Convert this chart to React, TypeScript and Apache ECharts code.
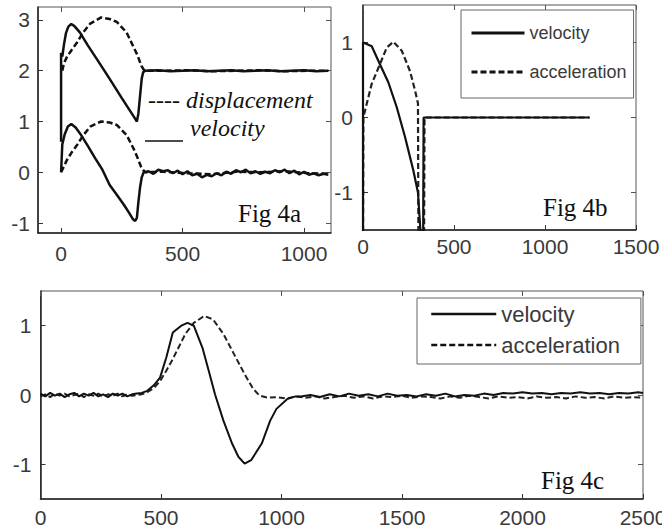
import React, { useEffect, useRef } from "react";
import * as echarts from "echarts";

// ---------- Fig 4a data ----------
const fig4aTicksX = [0, 500, 1000];
const fig4aTicksY = [-1, 0, 1, 2, 3];
const fig4aVelocityUpper = [
  [0, 0.6], [0, 2.35], [5, 2.28], [12, 2.52], [20, 2.74], [30, 2.87], [42, 2.92], [55, 2.88],
  [78, 2.75], [110, 2.5], [150, 2.21], [200, 1.84], [250, 1.46], [280, 1.24], [300, 1.09],
  [312, 1.0], [318, 1.15], [325, 1.5], [332, 1.85], [338, 1.97], [345, 2.0], [400, 2.01],
  [450, 1.99], [500, 2.0], [550, 2.01], [600, 1.99], [650, 2.0], [700, 2.01], [750, 1.99],
  [800, 2.0], [850, 2.01], [900, 1.99], [950, 2.0], [1000, 2.01], [1050, 1.99], [1100, 2.0],
];
const fig4aDisplacementUpper = [
  [5, 2.0], [12, 2.15], [25, 2.28], [45, 2.42], [65, 2.55], [90, 2.75], [120, 2.93],
  [165, 3.05], [200, 3.02], [230, 2.96], [270, 2.75], [300, 2.45], [315, 2.3], [330, 2.1],
  [340, 2.02], [350, 2.0], [420, 2.0], [520, 2.01], [620, 1.99], [720, 2.0], [820, 2.01],
  [920, 1.99], [1020, 2.0], [1100, 2.0],
];
const fig4aVelocityLower = [
  [0, 0.0], [5, 0.55], [15, 0.75], [28, 0.9], [42, 0.95], [60, 0.88], [80, 0.75], [110, 0.52],
  [140, 0.28], [170, 0.05], [200, -0.25], [230, -0.45], [260, -0.65], [280, -0.8], [295, -0.92],
  [305, -0.96], [312, -0.9], [318, -0.6], [325, -0.3], [332, -0.1], [340, 0.0], [360, 0.02],
  [380, -0.03], [400, 0.05], [420, 0.02], [440, 0.04], [460, -0.02], [480, 0.03], [500, -0.04],
  [520, 0.02], [540, -0.06], [560, -0.03], [580, -0.1], [600, -0.05], [620, -0.08], [640, -0.02],
  [660, -0.06], [680, 0.01], [700, -0.03], [720, 0.04], [740, 0.0], [760, 0.05], [780, -0.02],
  [800, 0.02], [820, -0.03], [840, 0.01], [860, -0.02], [880, 0.04], [900, 0.0], [920, 0.05],
  [940, -0.02], [960, 0.03], [980, -0.04], [1000, 0.01], [1020, -0.05], [1040, -0.02],
  [1060, -0.06], [1080, -0.03], [1100, -0.05],
];
const fig4aDisplacementLower = [
  [0, 0.0], [12, 0.12], [25, 0.25], [45, 0.4], [65, 0.53], [90, 0.72], [120, 0.9], [165, 1.0],
  [200, 0.98], [230, 0.93], [270, 0.73], [300, 0.45], [315, 0.28], [330, 0.1], [345, 0.0],
  [420, 0.01], [520, -0.02], [620, -0.04], [720, 0.01], [820, 0.0], [920, 0.02], [1020, -0.02],
  [1100, -0.03],
];

// ---------- Fig 4b data ----------
const fig4bTicksX = [0, 500, 1000, 1500];
const fig4bTicksY = [-1, 0, 1];
const fig4bVelocity = [
  [0, -2], [0, 1.0], [20, 0.98], [48, 0.95], [93, 0.71], [139, 0.47], [185, 0.14],
  [231, -0.26], [276, -0.7], [302, -1.0], [318, -1.6], [330, -2], [333, 0], [600, 0],
  [900, 0], [1245, 0],
];
const fig4bAcceleration = [
  [0, -2], [2, 0.0], [12, 0.1], [48, 0.45], [93, 0.71], [130, 0.93], [167, 1.01], [213, 0.89],
  [258, 0.62], [286, 0.36], [302, 0.19], [305, -2], [335, -2], [338, 0], [700, 0], [1245, 0],
];

// ---------- Fig 4c data ----------
const fig4cTicksX = [0, 500, 1000, 1500, 2000, 2500];
const fig4cTicksY = [-1, 0, 1];
const fig4cVelocity = [
  [0, 0.02], [20, -0.02], [40, 0.03], [60, -0.01], [80, 0.02], [100, -0.03], [120, 0.01],
  [140, 0.03], [160, -0.02], [180, 0.02], [200, -0.01], [220, 0.03], [240, -0.02], [260, 0.01],
  [280, -0.03], [300, 0.02], [320, -0.01], [340, 0.02], [360, -0.02], [380, 0.01], [400, 0.02],
  [420, 0.03], [443, 0.06], [470, 0.14], [496, 0.25], [522, 0.54], [549, 0.9], [584, 1.0],
  [610, 1.04], [636, 1.0], [672, 0.68], [698, 0.35], [724, 0.01], [759, -0.37], [795, -0.7],
  [821, -0.89], [847, -0.99], [874, -0.94], [918, -0.7], [953, -0.37], [979, -0.2],
  [1023, -0.06], [1058, -0.02], [1080, -0.02], [1120, 0.0], [1160, -0.03], [1200, 0.01],
  [1240, -0.02], [1280, 0.02], [1320, -0.01], [1360, 0.01], [1400, -0.02], [1440, 0.02],
  [1480, -0.01], [1520, 0.0], [1560, -0.02], [1600, 0.01], [1640, -0.01], [1680, 0.02],
  [1720, -0.02], [1760, 0.0], [1800, -0.01], [1840, 0.02], [1880, 0.0], [1920, 0.03],
  [1960, 0.02], [2000, 0.04], [2040, 0.02], [2080, 0.03], [2120, 0.01], [2160, 0.03],
  [2200, 0.02], [2240, 0.04], [2280, 0.02], [2320, 0.03], [2360, 0.01], [2400, 0.03],
  [2440, 0.02], [2480, 0.04], [2500, 0.03],
];
const fig4cAcceleration = [
  [0, -0.02], [20, 0.01], [40, -0.03], [60, 0.02], [80, -0.01], [100, 0.02], [120, -0.02],
  [140, 0.0], [160, 0.02], [180, -0.03], [200, 0.01], [220, -0.01], [240, 0.02], [260, -0.02],
  [280, 0.01], [300, -0.01], [320, 0.02], [340, -0.02], [360, 0.01], [380, -0.01], [400, 0.0],
  [420, 0.01], [443, 0.04], [470, 0.1], [496, 0.2], [522, 0.35], [549, 0.52], [575, 0.7],
  [601, 0.88], [636, 1.04], [680, 1.14], [716, 1.09], [759, 0.88], [803, 0.59], [847, 0.3],
  [882, 0.09], [909, -0.01], [944, -0.04], [980, -0.03], [1020, -0.05], [1060, -0.02],
  [1100, -0.04], [1140, -0.02], [1180, -0.05], [1220, -0.03], [1260, -0.01], [1300, -0.04],
  [1340, -0.02], [1380, -0.05], [1420, -0.02], [1460, -0.03], [1500, -0.01], [1540, -0.04],
  [1580, -0.02], [1620, -0.03], [1660, -0.05], [1700, -0.02], [1740, -0.04], [1780, -0.01],
  [1820, -0.03], [1860, -0.05], [1900, -0.02], [1940, -0.04], [1980, -0.03], [2020, -0.05],
  [2060, -0.02], [2100, -0.04], [2140, -0.03], [2180, -0.05], [2220, -0.02], [2260, -0.04],
  [2300, -0.03], [2340, -0.05], [2380, -0.02], [2420, -0.04], [2460, -0.03], [2500, -0.04],
];

const legendNames = ["velocity", "acceleration"];

const SANS = "'Liberation Sans', Arial, sans-serif";
const SERIF = "'Liberation Serif', 'Times New Roman', serif";
const LABEL_COLOR = "#3a3a3a";
const TICK_FONT = 21;
const plain = (v: number) => String(v);

function xAxes(gridIndex: number, min: number, max: number, ticks: number[], margin: number) {
  return [
    {
      type: "value", gridIndex, min, max, position: "bottom",
      axisLine: { show: true, onZero: false, lineStyle: { color: "#222", width: 1.5 } },
      axisTick: { show: true, inside: true, length: 5, customValues: ticks, lineStyle: { color: "#333" } },
      axisLabel: { show: true, customValues: ticks, formatter: plain, fontSize: TICK_FONT, fontFamily: SANS, color: LABEL_COLOR, margin, hideOverlap: false },
      splitLine: { show: false },
    },
    {
      type: "value", gridIndex, min, max, position: "top",
      axisLine: { show: false, onZero: false },
      axisTick: { show: true, inside: true, length: 5, customValues: ticks, lineStyle: { color: "#555" } },
      axisLabel: { show: false },
      splitLine: { show: false },
    },
  ];
}

function yAxes(gridIndex: number, min: number, max: number, ticks: number[], margin: number) {
  return [
    {
      type: "value", gridIndex, min, max, position: "left",
      axisLine: { show: true, onZero: false, lineStyle: { color: "#222", width: 1.5 } },
      axisTick: { show: true, inside: true, length: 5, customValues: ticks, lineStyle: { color: "#333" } },
      axisLabel: { show: true, customValues: ticks, formatter: plain, fontSize: TICK_FONT, fontFamily: SANS, color: LABEL_COLOR, margin },
      splitLine: { show: false },
    },
    {
      type: "value", gridIndex, min, max, position: "right",
      axisLine: { show: false, onZero: false },
      axisTick: { show: true, inside: true, length: 5, customValues: ticks, lineStyle: { color: "#555" } },
      axisLabel: { show: false },
      splitLine: { show: false },
    },
  ];
}

function line(name: string, data: number[][], axis: number, dashed: boolean, width: number, color = "#111") {
  return {
    type: "line", name, data, xAxisIndex: axis, yAxisIndex: axis,
    symbol: "none", showSymbol: false, silent: true, clip: true,
    lineStyle: { color, width, type: dashed ? [6, 3] : "solid" },
    itemStyle: { color },
  };
}

export default function App() {
  const ref = useRef<HTMLDivElement>(null);
  useEffect(() => {
    if (!ref.current) return;
    const chart = echarts.init(ref.current, null, { renderer: "svg" });
    const gridBase = { show: true, borderColor: "#555", borderWidth: 1, backgroundColor: "#fff", containLabel: false, outerBoundsMode: "none" };
    chart.setOption({
      animation: false,
      backgroundColor: "#fff",
      grid: [
        { ...gridBase, left: 38, top: 7, width: 293, height: 226 },
        { ...gridBase, left: 363, top: 5, width: 273, height: 225 },
        { ...gridBase, left: 40.5, top: 291, width: 602.5, height: 208 },
      ],
      xAxis: [
        ...xAxes(0, -95, 1111, fig4aTicksX, 10),
        ...xAxes(1, 0, 1500, fig4bTicksX, 6),
        ...xAxes(2, 0, 2500, fig4cTicksX, 8),
      ],
      yAxis: [
        ...yAxes(0, -1.197, 3.256, fig4aTicksY, 8),
        ...yAxes(1, -1.5, 1.5, fig4bTicksY, 10),
        ...yAxes(2, -1.5, 1.5, fig4cTicksY, 9),
      ],
      legend: [
        {
          data: legendNames, orient: "vertical", left: 461, top: 10,
          itemWidth: 53, itemHeight: 14, itemGap: 15,
          padding: [11, 7, 14, 9],
          borderColor: "#666", borderWidth: 1, backgroundColor: "#fff",
          selectedMode: false,
          itemStyle: { opacity: 0 },
          textStyle: { fontFamily: SANS, fontSize: 18, color: LABEL_COLOR, lineHeight: 24 },
          lineStyle: { width: 3, color: "#111" },
        },
        {
          data: legendNames, orient: "vertical", left: 417, top: 298,
          itemWidth: 65, itemHeight: 14, itemGap: 5,
          padding: [3, 21, 6, 13],
          borderColor: "#666", borderWidth: 1, backgroundColor: "#fff",
          selectedMode: false,
          itemStyle: { opacity: 0 },
          textStyle: { fontFamily: SANS, fontSize: 22, color: LABEL_COLOR, lineHeight: 26 },
          lineStyle: { width: 2.5, color: "#111" },
        },
      ],
      series: [
        line("displacement", fig4aDisplacementUpper, 0, true, 2.5),
        line("displacement", fig4aDisplacementLower, 0, true, 2.5),
        line("velocity", fig4aVelocityUpper, 0, false, 2.5),
        line("velocity", fig4aVelocityLower, 0, false, 2.5),
        line("acceleration", fig4bAcceleration, 2, true, 2.2, "#222"),
        line("velocity", fig4bVelocity, 2, false, 2.2),
        line("acceleration", fig4cAcceleration, 4, true, 2, "#222"),
        line("velocity", fig4cVelocity, 4, false, 2),
      ],
      graphic: [
        { type: "text", x: 238, y: 213, style: { text: "Fig 4a", fontSize: 25, fontFamily: SERIF, fill: "#111", verticalAlign: "middle", align: "left" } },
        { type: "text", x: 543, y: 207, style: { text: "Fig 4b", fontSize: 25, fontFamily: SERIF, fill: "#111", verticalAlign: "middle", align: "left" } },
        { type: "text", x: 541, y: 480, style: { text: "Fig 4c", fontSize: 25, fontFamily: SERIF, fill: "#111", verticalAlign: "middle", align: "left" } },
        { type: "text", x: 148, y: 100, style: { text: "---- displacement", fontSize: 24, fontStyle: "italic", fontFamily: SERIF, fill: "#111", verticalAlign: "middle", align: "left" } },
        { type: "line", shape: { x1: 145, y1: 141, x2: 183, y2: 141 }, style: { stroke: "#111", lineWidth: 1.5 } },
        { type: "text", x: 190, y: 128, style: { text: "velocity", fontSize: 24, fontStyle: "italic", fontFamily: SERIF, fill: "#111", verticalAlign: "middle", align: "left" } },
      ],
    });
    return () => chart.dispose();
  }, []);
  return (
    <div
      ref={ref}
      style={{ position: "absolute", left: 0, top: 0, width: 662, height: 530, background: "#fff" }}
    />
  );
}
